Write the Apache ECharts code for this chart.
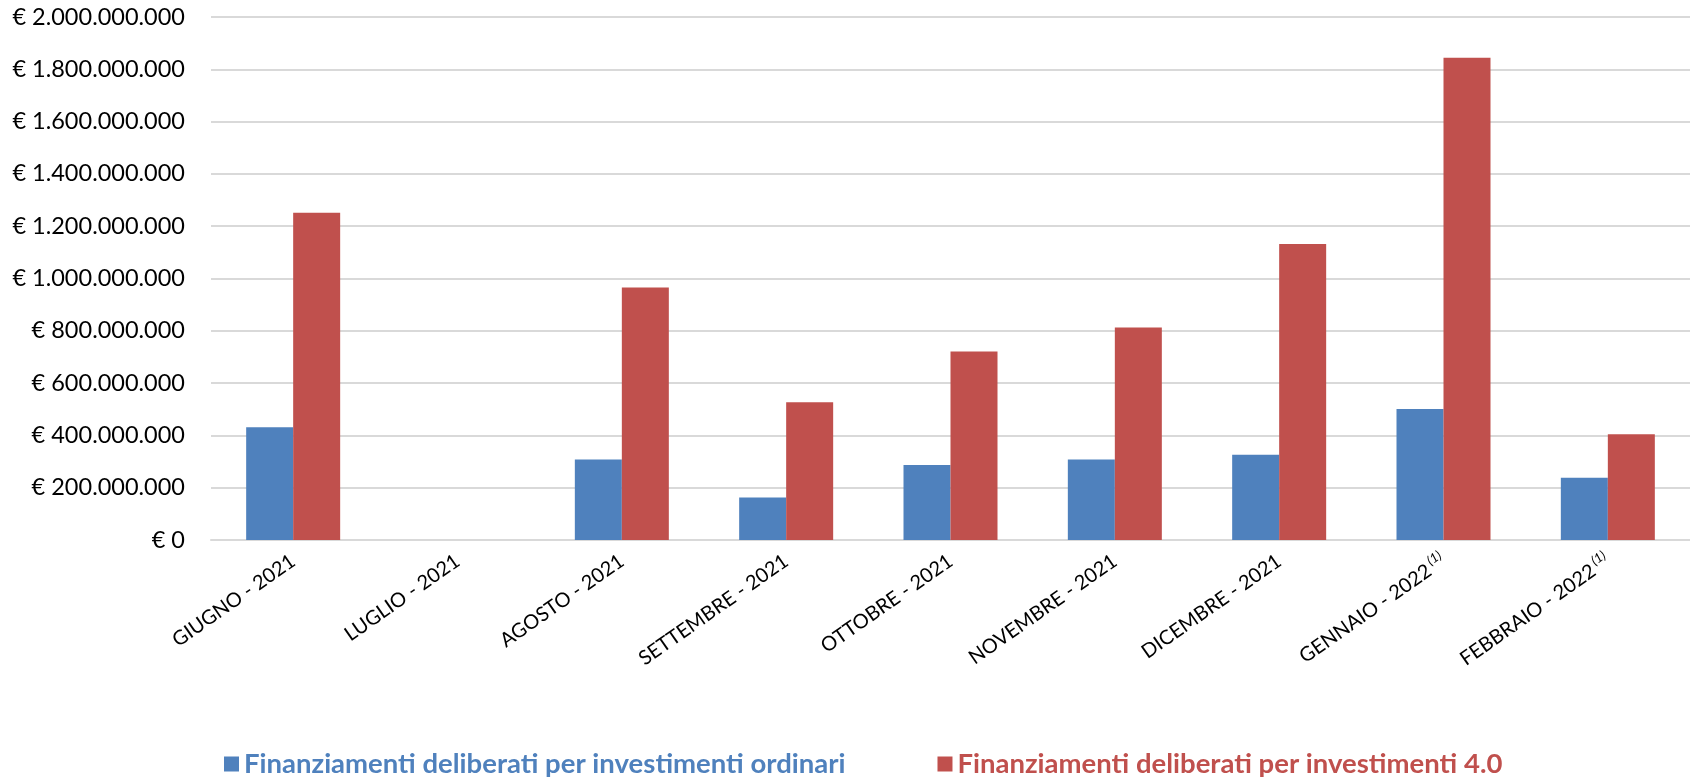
<!DOCTYPE html>
<html>
<head>
<meta charset="utf-8">
<script src="https://cdn.jsdelivr.net/npm/echarts@6/dist/echarts.min.js"></script>
<style>
  html, body { margin: 0; padding: 0; background: #fff; }
  #chart { width: 1690px; height: 778px; }
</style>
</head>
<body>
<div id="chart"></div>
<script>
// mesi (la nota (1) viene resa come apice)
const categories = [
  'GIUGNO - 2021',
  'LUGLIO - 2021',
  'AGOSTO - 2021',
  'SETTEMBRE - 2021',
  'OTTOBRE - 2021',
  'NOVEMBRE - 2021',
  'DICEMBRE - 2021',
  'GENNAIO - 2022 (1)',
  'FEBBRAIO - 2022 (1)'
]
const seriesNames = [
  'Finanziamenti deliberati per investimenti ordinari',
  'Finanziamenti deliberati per investimenti 4.0'
]
// valori in euro
const ordinari = [431e6, 0, 308e6, 163e6, 287e6, 308e6, 326e6, 501e6, 238e6]
const inv40 = [1251e6, 0, 966e6, 527e6, 721e6, 813e6, 1132e6, 1844e6, 404e6]
const colors = ['#4F81BD', '#C0504D']

const font = 'Lato, "Open Sans", sans-serif'

function euro (v) {
  const s = String(Math.round(v)).replace(/\B(?=(\d{3})+(?!\d))/g, '.')
  return '€ ' + s
}

const chart = echarts.init(document.getElementById('chart'))
chart.setOption({
  animation: false,
  color: colors,
  textStyle: { fontFamily: font },
  grid: {
    left: 211,
    right: 0,
    top: 17,
    bottom: 238,
    containLabel: false
  },
  legend: {
    data: seriesNames,
    left: 219,
    top: 745,
    itemWidth: 15,
    itemHeight: 15,
    itemGap: 92,
    icon: 'rect',
    textStyle: {
      fontFamily: font,
      fontSize: 27.5,
      fontWeight: 'bold',
      color: 'inherit'
    }
  },
  xAxis: {
    type: 'category',
    data: categories,
    axisLine: { show: true, lineStyle: { color: '#d9d9d9', width: 2 } },
    axisTick: { show: false },
    axisLabel: {
      rotate: 35,
      margin: 19,
      fontSize: 20,
      color: '#000',
      interval: 0,
      formatter: function (v) {
        return v.replace(' (1)', '{sup| (1)}')
      },
      rich: {
        sup: {
          fontSize: 13,
          fontStyle: 'italic',
          color: '#000',
          verticalAlign: 'top',
          padding: [0, 0, 12, 0]
        }
      }
    }
  },
  yAxis: {
    type: 'value',
    min: 0,
    max: 2000000000,
    interval: 200000000,
    axisLine: { show: false },
    axisTick: { show: false },
    splitLine: { lineStyle: { color: '#d9d9d9', width: 2 } },
    axisLabel: {
      margin: 26,
      fontSize: 23.5,
      color: '#000',
      formatter: euro
    }
  },
  series: [
    {
      name: seriesNames[0],
      type: 'bar',
      data: ordinari,
      barWidth: 47,
      barGap: '0%'
    },
    {
      name: seriesNames[1],
      type: 'bar',
      data: inv40,
      barWidth: 47,
      barGap: '0%'
    }
  ]
})
</script>
</body>
</html>
